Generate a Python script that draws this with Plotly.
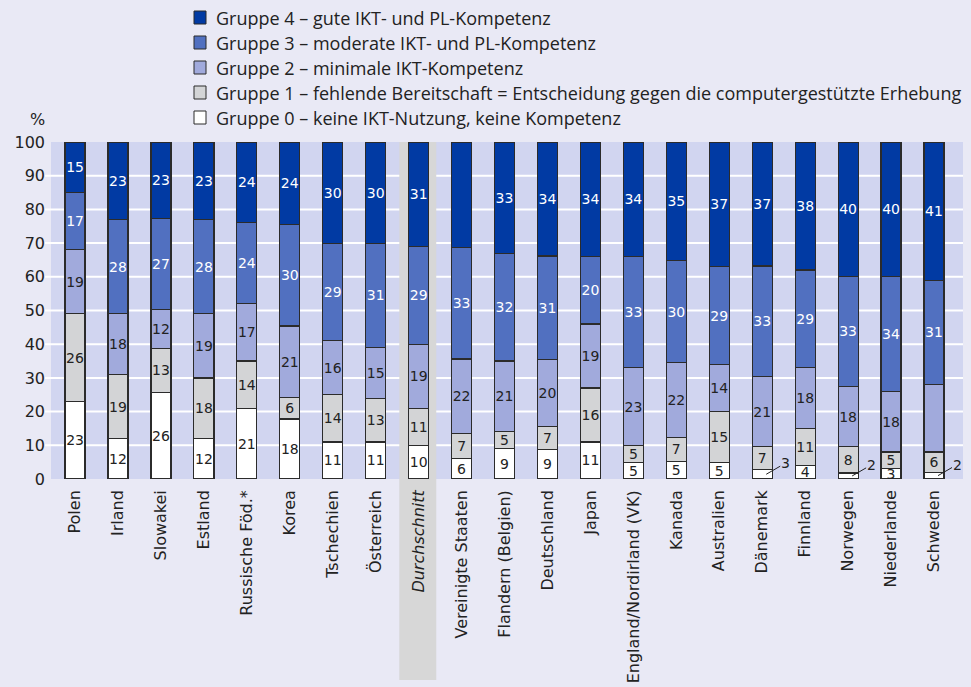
import plotly.graph_objects as go

# ---------------- data ----------------
countries = ["Polen", "Irland", "Slowakei", "Estland", "Russische Föd.*", "Korea",
             "Tschechien", "Österreich", "Durchschnitt", "Vereinigte Staaten",
             "Flandern (Belgien)", "Deutschland", "Japan", "England/Nordirland (VK)",
             "Kanada", "Australien", "Dänemark", "Finnland", "Norwegen",
             "Niederlande", "Schweden"]
average_label = "Durchschnitt"

group_names = [
    "Gruppe 0 – keine IKT-Nutzung, keine Kompetenz",
    "Gruppe 1 – fehlende Bereitschaft = Entscheidung gegen die computergestützte Erhebung",
    "Gruppe 2 – minimale IKT-Kompetenz",
    "Gruppe 3 – moderate IKT- und PL-Kompetenz",
    "Gruppe 4 – gute IKT- und PL-Kompetenz",
]

g0 = [23, 12, 25.6, 12, 21, 17.8, 11, 11, 10, 6.2, 9, 8.8, 11, 5, 5.2, 5, 2.8, 4, 1.8, 3, 2]
g1 = [26, 19, 13.2, 18, 14, 6.4, 14, 13, 11, 7.2, 5, 6.8, 16, 5, 7.2, 15, 6.8, 11, 7.8, 5, 6]
g2 = [19, 18, 11.6, 19, 17, 21.2, 16, 15, 19, 22.2, 21, 19.8, 19, 23, 22.2, 14, 20.8, 18, 17.8, 18, 20]
g3 = [17, 28, 26.8, 28, 24, 30.2, 29, 31, 29, 33.2, 32, 30.8, 20, 33, 30.2, 29, 32.8, 29, 32.8, 34, 31]
g4 = [15, 23, 22.8, 23, 24, 24.4, 30, 30, 31, 31.2, 33, 33.8, 34, 34, 35.2, 37, 36.8, 38, 39.8, 40, 41]

y_ticks = [0, 10, 20, 30, 40, 50, 60, 70, 80, 90, 100]

# labels drawn with a leader line instead of inside the bar (group 0)
leader_countries = ["Dänemark", "Norwegen", "Schweden"]
# segments without a value label (group 2)
unlabeled_g2 = ["Schweden"]

# ---------------- styling ----------------
colors = ["#ffffff", "#d3d4d6", "#a1aadc", "#5170c0", "#013aa3"]
text_colors = ["#222222", "#222222", "#222222", "#ffffff", "#ffffff"]
paper_bg = "#e9e9f5"
plot_bg = "#d1d5f0"
band_color = "#d7d7d7"
outline = "#2b2b2b"

W, H = 971, 687
L, R, T, B = 51, 8, 142, 208
pw, ph = W - L - R, H - T - B
x_range = [-0.56, 20.675]


def px_x(x):
    return (x - L) / pw


def px_y(y):
    return (H - B - y) / ph


def cat_to_paper(v):
    return (v - x_range[0]) / (x_range[1] - x_range[0])


series = [g0, g1, g2, g3, g4]
fig = go.Figure()
for k, vals in enumerate(series):
    texts = []
    for c, v in zip(countries, vals):
        t = f"{v:.0f}"
        if k == 0 and c in leader_countries:
            t = ""
        if k == 2 and c in unlabeled_g2:
            t = ""
        texts.append(t)
    fig.add_trace(go.Bar(
        x=countries, y=vals, name=group_names[k],
        marker=dict(color=colors[k], line=dict(color=outline, width=1.2)),
        text=texts, textposition="inside", insidetextanchor="middle",
        textangle=0, constraintext="none", cliponaxis=False,
        insidetextfont=dict(family="DejaVu Sans", size=14, color=text_colors[k]),
        showlegend=False, hoverinfo="x+y",
    ))

shapes = []
# plot background
shapes.append(dict(type="rect", xref="paper", yref="paper", x0=0, x1=1, y0=0, y1=1,
                   fillcolor=plot_bg, line=dict(width=0), layer="below"))
# grid lines (with small outside extension)
for v in y_ticks[1:-1]:
    shapes.append(dict(type="line", xref="paper", yref="y", x0=px_x(45), x1=1, y0=v, y1=v,
                       line=dict(color="white", width=2), layer="below"))
# highlight band for the average
idx = countries.index(average_label)
shapes.append(dict(type="rect", xref="paper", yref="paper",
                   x0=cat_to_paper(idx - 0.45), x1=cat_to_paper(idx + 0.41),
                   y0=px_y(680), y1=1, fillcolor=band_color, line=dict(width=0), layer="below"))

annotations = []
# leader-line labels
for c in leader_countries:
    i = countries.index(c)
    annotations.append(dict(x=c, y=g0[i] / 2, xref="x", yref="y", text=f"{g0[i]:.0f}",
                            showarrow=True, arrowhead=0, arrowwidth=1, arrowcolor="#222222",
                            ax=19, ay=-11, xshift=4, standoff=0, borderpad=0,
                            font=dict(family="DejaVu Sans", size=14, color="#222222")))
# manual legend
for r, k in enumerate(range(4, -1, -1)):
    cy = 17.5 + 25 * r
    shapes.append(dict(type="rect", xref="paper", yref="paper",
                       x0=px_x(194), x1=px_x(206), y0=px_y(cy + 6.5), y1=px_y(cy - 6.5),
                       fillcolor=colors[k], line=dict(color=outline, width=1)))
    annotations.append(dict(x=px_x(214), y=px_y(cy), xref="paper", yref="paper",
                            xanchor="left", yanchor="middle", showarrow=False,
                            text=group_names[k],
                            font=dict(family="Open Sans", size=18, color="#222222")))
# "%" axis unit
annotations.append(dict(x=px_x(37), y=px_y(120), xref="paper", yref="paper",
                        xanchor="center", yanchor="middle", showarrow=False, text="%",
                        font=dict(family="DejaVu Sans", size=16, color="#222222")))

tick_text = [f"<i>{c}</i>" if c == average_label else c for c in countries]

fig.update_layout(
    width=W, height=H,
    margin=dict(l=L, r=R, t=T, b=B, pad=0, autoexpand=False),
    paper_bgcolor=paper_bg, plot_bgcolor="rgba(0,0,0,0)",
    barmode="stack", bargap=0.534,
    shapes=shapes, annotations=annotations,
    showlegend=False,
    xaxis=dict(range=x_range, tickvals=countries, ticktext=tick_text, tickangle=-90,
               ticks="", showgrid=False, zeroline=False, showline=False,
               ticklabelstandoff=7, automargin=False,
               tickfont=dict(family="DejaVu Sans", size=16, color="#222222")),
    yaxis=dict(range=[0, 100], tickvals=y_ticks, ticks="", showgrid=False, zeroline=False,
               showline=False, ticklabelstandoff=5, automargin=False,
               tickfont=dict(family="DejaVu Sans", size=16, color="#222222")),
    font=dict(family="DejaVu Sans", color="#222222"),
)

fig.write_html(
    "out.html",
    config={"displayModeBar": False},
    post_script="document.body.style.margin='0';document.body.style.background='%s';" % paper_bg,
)
